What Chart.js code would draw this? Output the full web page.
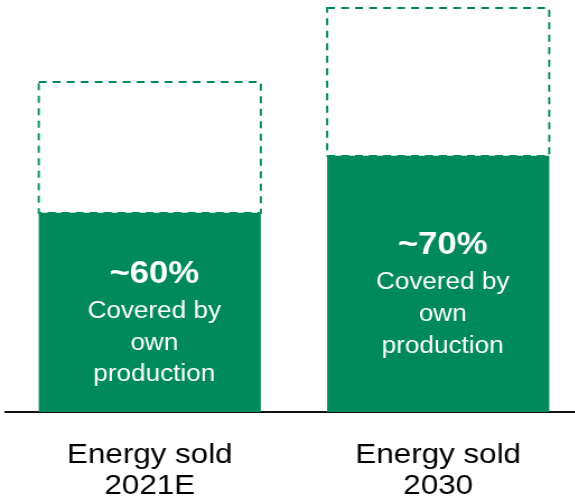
<!DOCTYPE html>
<html>
<head>
<meta charset="utf-8">
<script src="https://cdn.jsdelivr.net/npm/chart.js@4/dist/chart.umd.min.js"></script>
<style>
  html, body { margin: 0; padding: 0; background: #fff; overflow: hidden; width: 575px; height: 504px; }
  /* the source picture is stretched wider, so the chart is drawn narrower and scaled */
  #wrap { width: 520px; height: 504px; transform: scaleX(1.12); transform-origin: 0 0; }
</style>
</head>
<body>
<div id="wrap"><canvas id="grafico"></canvas></div>
<script>
// data (arbitrary units, 2030 total = 10)
var categorias = [['Energy sold', '2021E'], ['Energy sold', '2030']];
var produccionPropia = [4.93, 6.34];
var resto = [3.24, 3.66];
var porcentajes = ['~60%', '~70%'];
var textoBarra = ['Covered by', 'own', 'production'];

var verde = '#00895A';
var fuente = '"Liberation Sans", Arial, sans-serif';

var pluginBarras = {
    id: 'pluginBarras',
    afterDatasetsDraw: function (chart) {
        var ctx = chart.ctx;
        // dashed outline for the remaining part
        var metaResto = chart.getDatasetMeta(1);
        ctx.save();
        ctx.strokeStyle = verde;
        ctx.lineWidth = 1.9;
        ctx.setLineDash([7, 5.5]);
        metaResto.data.forEach(function (bar) {
            var izq = bar.x - bar.width / 2;
            ctx.strokeRect(izq, bar.y, bar.width, bar.base - bar.y);
        });
        ctx.restore();

        // text inside the green bars
        var metaPropia = chart.getDatasetMeta(0);
        ctx.save();
        ctx.fillStyle = '#fff';
        ctx.textAlign = 'center';
        ctx.textBaseline = 'alphabetic';
        metaPropia.data.forEach(function (bar, i) {
            var cx = bar.x + 4;
            var y0 = (bar.y + bar.base) / 2 - 29.5;
            ctx.font = 'bold 31px ' + fuente;
            ctx.fillText(porcentajes[i], cx, y0);
            ctx.font = '23.3px ' + fuente;
            textoBarra.forEach(function (t, j) {
                ctx.fillText(t, cx, y0 + 35 + j * 31.6);
            });
        });
        ctx.restore();
    }
};

var ctx = document.getElementById('grafico').getContext('2d');
new Chart(ctx, {
    type: 'bar',
    data: {
        labels: categorias,
        datasets: [{
            label: 'Own production',
            data: produccionPropia,
            backgroundColor: verde,
            borderWidth: 0
        }, {
            label: 'Rest',
            data: resto,
            backgroundColor: 'rgba(0,0,0,0)',
            borderWidth: 0
        }]
    },
    plugins: [pluginBarras],
    options: {
        responsive: true,
        maintainAspectRatio: false,
        animation: false,
        layout: { padding: { left: 5, right: 0, top: 8, bottom: 0 } },
        datasets: { bar: { categoryPercentage: 1, barPercentage: 0.77 } },
        plugins: {
            legend: { display: false },
            tooltip: { enabled: false }
        },
        scales: {
            x: {
                stacked: true,
                grid: { display: false, drawTicks: false },
                border: { display: true, color: '#111', width: 2 },
                ticks: {
                    color: '#000',
                    padding: 27,
                    font: { family: fuente, size: 28, lineHeight: 1.13 }
                },
                afterFit: function (scale) { scale.height = 92; }
            },
            y: {
                stacked: true,
                display: false,
                min: 0,
                max: 10
            }
        }
    }
});
</script>
</body>
</html>
